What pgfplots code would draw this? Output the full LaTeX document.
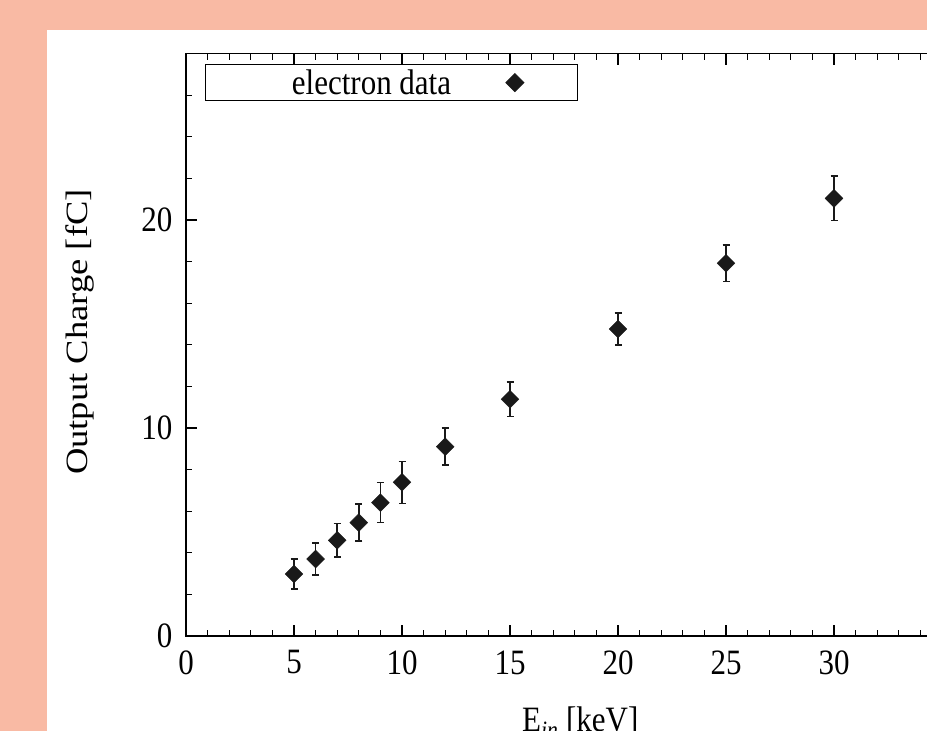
\documentclass[border=0pt]{standalone}
\usepackage{fontspec}
\setmainfont{Liberation Serif}
\usepackage{pgfplots}
\pgfplotsset{compat=1.18}
\definecolor{salmon}{RGB}{249,186,164}
\newcommand{\bigfont}{\fontsize{31}{37}\selectfont}
\newcommand{\tall}[1]{\scalebox{1}[1.15]{#1}}

\begin{document}
\begin{tikzpicture}[x=1pt,y=1pt]
\useasboundingbox (0,0) rectangle (927,731);
\clip (0,0) rectangle (927,731);
\fill[salmon] (0,0) rectangle (927,731);
\fill[white] (47,0) rectangle (927,701);
\begin{axis}[
  at={(186pt,95pt)}, anchor=south west,
  x=21.6pt, y=20.8pt,
  xmin=0, xmax=36, ymin=0, ymax=28,
  xtick={0,5,...,30}, minor xtick={0,1,...,36},
  ytick distance=10, minor y tick num=4,
  tick align=inside,
  major tick length=11pt, minor tick length=6pt,
  every tick/.style={black,line width=1.1pt},
  axis line style={line width=1.2pt},
  tick label style={font=\bigfont},
  /pgf/number format/assume math mode=true,
  xticklabel={\tall{\pgfmathprintnumber{\tick}}},
  yticklabel={\tall{\pgfmathprintnumber{\tick}}},
  xticklabel style={yshift=-11pt},
  yticklabel style={xshift=-10pt},
  xlabel={\tall{E\textsubscript{\textit{in}} [keV]}},
  xlabel style={font=\bigfont, at={(axis description cs:0.507,-0.121)}, anchor=north, inner sep=0pt},
  ylabel={\scalebox{1.18}[1]{Output Charge [fC]}},
  ylabel style={font=\bigfont, at={(axis description cs:-0.136,0.522)}, anchor=center},
  legend plot pos=right,
  legend style={at={(axis cs:0.88,27.5)}, anchor=north west, draw=black, line width=1pt,
    inner xsep=53.5pt, inner ysep=5pt, column sep=22pt,
    nodes={inner sep=0pt, font=\bigfont}},
]
\addplot+[only marks, color=black!90, mark=square*, mark size=6.3pt,
  mark options={rotate=45, fill=black!90, draw=black!90},
  error bars/.cd, y dir=both, y explicit,
  error bar style={line width=1.5pt, black!90},
  error mark options={rotate=90, mark size=3.5pt, line width=1.5pt, black!90}]
coordinates {
  (5,2.98) +- (0,0.72)
  (6,3.70) +- (0,0.76)
  (7,4.60) +- (0,0.80)
  (8,5.45) +- (0,0.89)
  (9,6.41) +- (0,0.96)
  (10,7.39) +- (0,1.01)
  (12,9.10) +- (0,0.89)
  (15,11.38) +- (0,0.82)
  (20,14.76) +- (0,0.76)
  (25,17.92) +- (0,0.88)
  (30,21.04) +- (0,1.07)
};
\addlegendentry{\makebox[225pt]{\tall{electron data}}}
\end{axis}
\end{tikzpicture}
\end{document}
